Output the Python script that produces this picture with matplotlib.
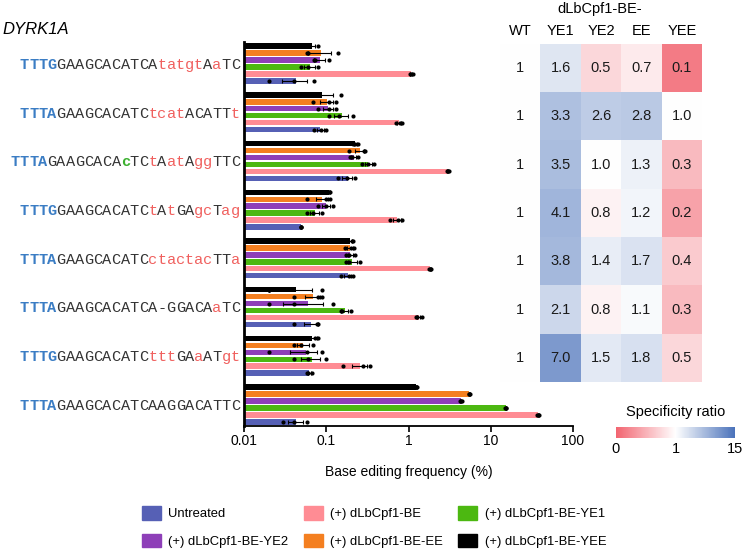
import numpy as np
import matplotlib
matplotlib.use("Agg")
import matplotlib.pyplot as plt
from matplotlib.colors import LinearSegmentedColormap, LogNorm
from matplotlib.patches import Patch
from matplotlib.transforms import blended_transform_factory
import matplotlib.cm as cm

plt.rcParams['font.family'] = ['Liberation Sans', 'DejaVu Sans']

# target sequences (lowercase = mismatch), top to bottom
targets = ["TTTGGAAGCACATCAtatgtAaTC",
           "TTTAGAAGCACATCtcatACATTt",
           "TTTAGAAGCACAcTCtAatAggTTC",
           "TTTGGAAGCACATCtAtGAgcTag",
           "TTTAGAAGCACATCctactacTTa",
           "TTTAGAAGCACATCA-GGACAaTC",
           "TTTGGAAGCACATCtttGAaATgt",
           "TTTAGAAGCACATCAAGGACATTC"]
bulge_sites = [None, None, 12, None, None, None, None, None]

# replicate base editing frequencies (%) per target
untreated = [[0.020, 0.040, 0.070], [0.070, 0.086, 0.099], [0.14, 0.18, 0.225], [0.049, 0.049, 0.049],
             [0.15, 0.19, 0.21], [0.04, 0.078, 0.08], [0.059, 0.06, 0.068], [0.03, 0.04, 0.059]]
be = [[1.04, 1.07, 1.14], [0.70, 0.786, 0.84], [2.9, 3.0, 3.1], [0.594, 0.75, 0.84],
      [1.8, 1.85, 1.9], [1.25, 1.28, 1.45], [0.158, 0.277, 0.34], [37.0, 38.0, 38.5]]
ye1 = [[0.049, 0.060, 0.080], [0.109, 0.143, 0.209], [0.269, 0.324, 0.383], [0.059, 0.0695, 0.0895],
       [0.175, 0.19, 0.26], [0.15, 0.155, 0.2], [0.04, 0.06, 0.099], [15.0, 15.3, 15.5]]
ye2 = [[0.07, 0.072, 0.109], [0.08, 0.109, 0.13], [0.195, 0.205, 0.245], [0.08, 0.099, 0.12],
       [0.175, 0.19, 0.225], [0.02, 0.04, 0.12], [0.02, 0.059, 0.0895], [4.2, 4.3, 4.45]]
ee = [[0.059, 0.06, 0.14], [0.0695, 0.109, 0.13], [0.19, 0.285, 0.295], [0.059, 0.10, 0.11],
      [0.169, 0.199, 0.219], [0.04, 0.08, 0.088], [0.04, 0.049, 0.0695], [5.4, 5.5, 5.6]]
yee = [[0.06, 0.06, 0.08], [0.06, 0.06, 0.15], [0.21, 0.225, 0.24], [0.105, 0.108, 0.112],
       [0.17, 0.205, 0.21], [0.02, 0.02, 0.09], [0.05, 0.072, 0.08], [1.22, 1.25, 1.28]]

labels = ["Untreated", "(+) dLbCpf1-BE", "(+) dLbCpf1-BE-YE1",
          "(+) dLbCpf1-BE-YE2", "(+) dLbCpf1-BE-EE", "(+) dLbCpf1-BE-YEE"]
colors = ["#5660B5", "#FF8C94", "#4CB811", "#8E3FB8", "#F47F20", "#000000"]

# specificity ratio heatmap
ratio_cols = ["WT", "YE1", "YE2", "EE", "YEE"]
ratios = [[1, 1.6, 0.5, 0.7, 0.1],
          [1, 3.3, 2.6, 2.8, 1.0],
          [1, 3.5, 1.0, 1.3, 0.3],
          [1, 4.1, 0.8, 1.2, 0.2],
          [1, 3.8, 1.4, 1.7, 0.4],
          [1, 2.1, 0.8, 1.1, 0.3],
          [1, 7.0, 1.5, 1.8, 0.5]]

W, H = 742, 550
fig = plt.figure(figsize=(W / 100, H / 100), dpi=100)

def px(x0, y0, x1, y1):
    return [x0 / W, 1 - y1 / H, (x1 - x0) / W, (y1 - y0) / H]

ax = fig.add_axes(px(244, 42, 573, 426))

data = [untreated, be, ye1, ye2, ee, yee]
# within each group: YEE on top, untreated at the bottom
order = [5, 4, 3, 2, 1, 0]
for g in range(len(targets)):
    for j, k in enumerate(order):
        reps = np.array(data[k][g])
        m = reps.mean()
        sem = reps.std(ddof=1) / np.sqrt(len(reps))
        y = g * 7 + j
        ax.barh(y, m, height=0.78, color=colors[k], zorder=1)
        ax.errorbar(m, y, xerr=sem, color='black', lw=0.8, capsize=1.5, capthick=0.8, zorder=2)
        ax.scatter(reps, [y] * len(reps), s=9, color='black', zorder=3, linewidths=0)

ax.set_xscale('log')
ax.set_xlim(0.01, 100)
ax.set_ylim(len(targets) * 7 - 1.4, -0.6)
ax.set_xticks([0.01, 0.1, 1, 10, 100])
ax.set_xticklabels(["0.01", "0.1", "1", "10", "100"])
ax.xaxis.set_minor_locator(plt.NullLocator())
ax.set_yticks([])
ax.tick_params(axis='x', length=4, width=1.2, pad=2, labelsize=10)
for s in ['top', 'right']:
    ax.spines[s].set_visible(False)
ax.spines['left'].set_linewidth(2)
ax.spines['bottom'].set_linewidth(1.3)
ax.set_xlabel("Base editing frequency (%)", fontsize=10, labelpad=12)

# sequence labels, one character at a time (monospace)
fs = 11
cw = 0.6 * fs
trans = blended_transform_factory(ax.transAxes, ax.transData)
for g, seq in enumerate(targets):
    n = len(seq)
    yc = g * 7 + 2.5
    for i, ch in enumerate(seq):
        weight = 'normal'
        if i < 4:
            col, weight = '#3B7DC4', 'bold'
        elif bulge_sites[g] == i:
            col, weight = '#3BB02F', 'bold'
        elif ch.islower():
            col = '#F0605E'
        else:
            col = '#333333'
        ax.annotate(ch, xy=(0, yc), xycoords=trans,
                    xytext=(-(n - i) * cw - 3, -3.8), textcoords='offset points',
                    ha='left', va='baseline', fontsize=fs, color=col,
                    fontweight=weight, family='Liberation Mono', annotation_clip=False)

fig.text(2 / W, 1 - 30 / H, "DYRK1A", style='italic', fontsize=12, va='center')

# heatmap
cmap = LinearSegmentedColormap.from_list('spec', ['#F26470', '#ffffff', '#4A72BA'])
norm = LogNorm(vmin=1 / 15, vmax=15)
axh = fig.add_axes(px(500, 44, 702, 382))
axh.imshow(np.array(ratios), cmap=cmap, norm=norm, aspect='auto')
axh.set_axis_off()
for r, row in enumerate(ratios):
    for c, v in enumerate(row):
        txt = "1" if c == 0 else "{:.1f}".format(v)
        axh.text(c, r, txt, ha='center', va='center', fontsize=10.5, color='#1a1a1a')
htrans = blended_transform_factory(axh.transData, fig.transFigure)
for c, name in enumerate(ratio_cols):
    axh.text(c, 1 - 31 / H, name, transform=htrans, ha='center', va='center', fontsize=10.5)
fig.text(600 / W, 1 - 9 / H, "dLbCpf1-BE-", ha='center', va='center', fontsize=10.5)

# colour bar
axc = fig.add_axes(px(616, 427, 735, 438))
cb = fig.colorbar(cm.ScalarMappable(norm=norm, cmap=cmap), cax=axc, orientation='horizontal')
cb.outline.set_visible(False)
cb.set_ticks([1 / 15, 1, 15])
cb.set_ticklabels(["0", "1", "15"])
axc.xaxis.set_minor_locator(plt.NullLocator())
axc.tick_params(length=0, pad=3, labelsize=10.5)
fig.text(676 / W, 1 - 412 / H, "Specificity ratio", ha='center', va='center', fontsize=10.5)

# legend
leg_order = [0, 3, 1, 4, 2, 5]
handles = [Patch(color=colors[k]) for k in leg_order]
fig.legend(handles, [labels[k] for k in leg_order], ncol=3, loc='center',
           bbox_to_anchor=(374 / W, 1 - 527 / H), frameon=False, fontsize=9.4,
           handlelength=1.45, handleheight=1.2, handletextpad=0.55,
           columnspacing=1.2, labelspacing=1.0, borderpad=0.2)

fig.savefig("out.png", dpi=100)
